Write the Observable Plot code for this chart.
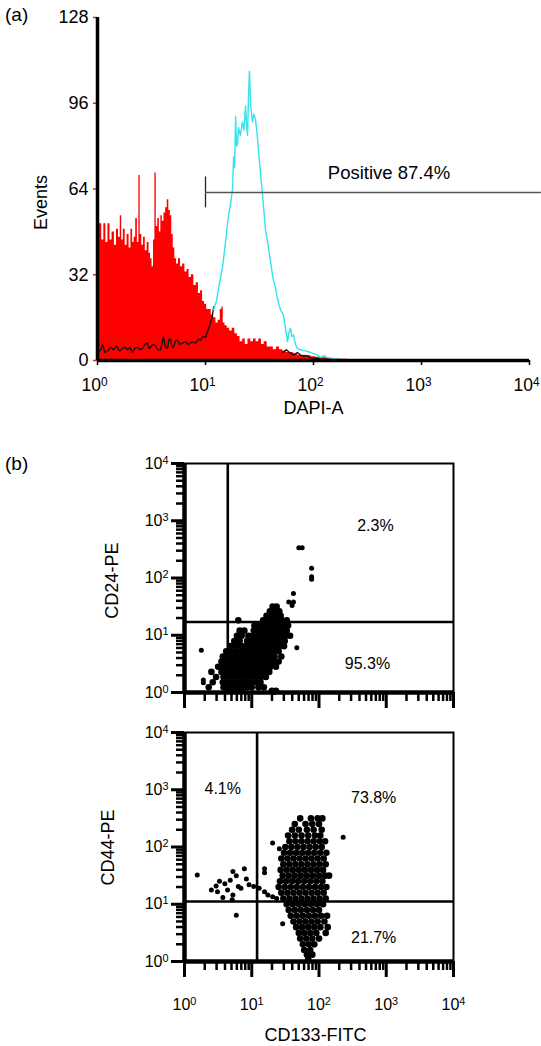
<!DOCTYPE html>
<html><head><meta charset="utf-8">
<script src="https://cdn.jsdelivr.net/npm/d3@7"></script>
<script src="https://cdn.jsdelivr.net/npm/@observablehq/plot@0.6"></script>
<style>
body{margin:0;background:#fff;}
#wrap{position:relative;width:541px;height:1046px;font-family:Arial,"Liberation Sans",sans-serif;color:#000;}
.panel{position:absolute;left:0;}
.tag{position:absolute;font-size:19px;line-height:1;}
</style></head><body>
<div id="wrap"><div class="tag" style="left:5px;top:5px">(a)</div><div class="tag" style="left:5px;top:454px">(b)</div></div>
<script>
// ---------- Panel (a): DAPI-A histogram (intensity, events) ----------
const redHist = [[1.00,46],[1.07,51],[1.12,45],[1.17,51],[1.22,44],[1.28,51],[1.33,45],[1.40,48],[1.47,43],[1.53,49],[1.60,46],[1.65,54],[1.70,45],[1.77,49],[1.84,43],[1.92,47],[2.00,42],[2.08,49],[2.15,44],[2.22,46],[2.30,53],[2.38,44],[2.45,69],[2.52,47],[2.62,43],[2.72,46],[2.82,41],[2.95,44],[3.05,40],[3.15,38],[3.25,35],[3.35,45],[3.45,70],[3.55,50],[3.68,53],[3.80,48],[3.92,54],[4.05,52],[4.20,55],[4.35,57],[4.50,60],[4.65,56],[4.80,54],[4.95,47],[5.10,42],[5.30,38],[5.50,36],[5.75,38],[6.00,35],[6.30,36],[6.60,33],[6.90,34],[7.20,31],[7.60,32],[8.00,28],[8.40,29],[8.80,25],[9.20,26],[9.60,22],[10.0,21],[10.5,19],[11.0,19],[11.6,17],[12.2,16],[12.8,14],[13.4,15],[14.0,19],[14.4,20],[14.8,14],[15.5,13],[16.3,12],[17.2,11],[18.2,12],[19.2,10],[20.3,9],[21.5,7],[22.7,8],[24.0,6],[25.5,8],[27.0,7],[28.6,8],[30.3,7],[32.0,8],[34.0,6],[36.0,7],[38.5,5],[41.0,5],[44.0,4],[47.0,5],[50.0,4],[54.0,3.5],[58.0,3],[63.0,3],[68.0,2.5],[75.0,2],[82.0,2],[90.0,1.8],[100,1.4],[110,1.2],[125,1],[140,0.8],[160,0.6],[190,0.5],[230,0.4],[300,0.3],[400,0.3],[600,0.2],[1000,0.2],[10000,0.1]];
const cyanHist = [[11.9,19],[12.6,22],[13.2,27],[13.8,31],[14.4,35],[15.3,44],[16.3,54],[17.0,58],[17.8,64],[18.2,76],[18.6,72],[19.0,91],[19.4,80],[19.8,81],[20.2,87],[21.0,84],[22.0,89],[22.7,86],[23.5,95],[24.0,88],[24.5,84],[25.0,98],[25.5,108],[26.2,95],[27.2,89],[28.0,92],[29.0,90],[30.0,85],[31.0,78],[32.3,70],[33.7,62],[35.9,49],[38.0,43],[40.0,37],[42.0,31],[44.5,27],[47.0,22],[49.4,19],[52.7,17],[55.0,12],[57.4,7],[59.0,10],[61.2,12],[63.0,9],[65.3,9.5],[68.0,6],[71.1,4.5],[76.0,4],[80.8,3.7],[86.0,3.5],[93.8,3],[100,2.5],[108,2.2],[116,1.1],[125,1.8],[135,1.0],[153,0.7],[180,0.4],[220,0.2],[300,0.1]];
const blackHead = [[1.00,3],[1.07,4],[1.11,6],[1.17,3],[1.24,3.5],[1.32,5],[1.40,4],[1.50,5.5],[1.60,3.5],[1.70,4.5],[1.80,5],[1.90,4],[2.00,5],[2.11,3],[2.22,4.5],[2.35,5],[2.48,4],[2.61,4.5],[2.75,6],[2.90,6.5],[3.00,4.5],[3.10,5],[3.25,6],[3.44,5.5],[3.60,4],[3.83,4],[4.00,7],[4.08,9],[4.25,5],[4.45,4.5],[4.60,8],[4.74,8],[4.90,5],[5.06,5],[5.30,7.5],[5.50,7.5],[5.80,6],[6.12,6.5],[6.50,7],[6.96,6],[7.50,7],[8.08,6.5],[8.60,8],[8.98,7.5],[9.50,9],[10.0,8.6],[10.5,11],[11.1,14],[11.5,16],[11.9,20]];
const blackTail = [[52,3],[56,4],[60,3],[65,2],[71,3],[76,2],[81,1.5],[88,1.8],[94,1],[105,0.8],[120,0.5],[150,0.3]];
const histYTicks = [0, 32, 64, 96, 128];
const decades = [1, 10, 100, 1000, 10000];
const gateA = {x: 10, y: 62.7, xEnd: 12900, tickLo: 57, tickHi: 68.5};
const gateLabel = [{x: 500, y: 69.8, text: "Positive 87.4%"}];

// ---------- Panel (b): scatter rows, in decades: [log10 y, [log10 x ...]] ----------
const cd24Rows = [
 [1.50,[1.31,1.37]],
 [1.42,[1.27,1.34,1.41]],
 [1.34,[1.22,1.29,1.36,1.43]],
 [1.26,[0.80,1.17,1.24,1.31,1.38,1.45,1.52]],
 [1.17,[1.04,1.12,1.19,1.26,1.33,1.40,1.47,1.54]],
 [1.08,[0.82,0.89,1.03,1.10,1.17,1.24,1.31,1.38,1.45,1.52]],
 [0.99,[0.78,0.85,0.95,1.02,1.09,1.16,1.23,1.30,1.37,1.44,1.51,1.57]],
 [0.90,[0.74,0.82,0.93,1.00,1.07,1.14,1.21,1.28,1.35,1.42,1.49]],
 [0.81,[0.69,0.77,0.85,0.92,0.99,1.06,1.13,1.20,1.27,1.34,1.41,1.48]],
 [0.72,[0.62,0.69,0.76,0.83,0.90,0.97,1.04,1.11,1.18,1.25,1.32,1.40]],
 [0.63,[0.57,0.64,0.71,0.78,0.85,0.92,0.99,1.06,1.13,1.20,1.27,1.34,1.44]],
 [0.54,[0.55,0.62,0.69,0.76,0.83,0.90,0.97,1.04,1.11,1.18,1.25,1.32,1.40]],
 [0.45,[0.50,0.58,0.65,0.72,0.79,0.86,0.93,1.00,1.07,1.14,1.21,1.28,1.36]],
 [0.36,[0.40,0.55,0.62,0.69,0.76,0.83,0.90,0.97,1.04,1.11,1.18,1.26]],
 [0.27,[0.47,0.58,0.65,0.72,0.79,0.86,0.93,1.00,1.07,1.14,1.21]],
 [0.18,[0.42,0.57,0.64,0.71,0.78,0.85,0.92,0.99,1.06,1.13]],
 [0.09,[0.36,0.58,0.65,0.72,0.79,0.86,0.93,1.00,1.10,1.18]],
 [0.03,[0.64,0.71,0.78,0.86,1.30,1.36]]
];
const cd24Stray = [[1.70,2.53],[1.75,2.53],[1.89,2.17],[1.89,2.02],[1.89,1.98],[1.62,1.73],[1.55,1.58],[1.62,1.58],[1.60,1.52],[0.25,0.74],[0.28,0.22],[0.28,0.17],[1.67,0.78],[1.34,0.00]];
const cd44Rows = [
 [2.50,[1.72,1.88,1.98,2.05]],
 [2.40,[1.64,1.80,1.90,2.00]],
 [2.30,[1.60,1.70,1.82,1.92,2.04]],
 [2.20,[1.54,1.64,1.74,1.84,1.94,2.02]],
 [2.10,[1.56,1.65,1.74,1.83,1.92,2.01,2.09]],
 [2.00,[1.50,1.59,1.68,1.77,1.86,1.95,2.04]],
 [1.90,[1.48,1.57,1.66,1.75,1.84,1.93,2.02,2.11]],
 [1.80,[1.44,1.53,1.62,1.71,1.80,1.89,1.98,2.07]],
 [1.70,[1.47,1.56,1.65,1.74,1.83,1.92,2.01,2.10]],
 [1.60,[1.43,1.52,1.61,1.70,1.79,1.88,1.97,2.06]],
 [1.50,[1.46,1.55,1.64,1.73,1.82,1.91,2.00,2.09,2.15]],
 [1.40,[1.42,1.51,1.60,1.69,1.78,1.87,1.96,2.05]],
 [1.30,[1.40,1.49,1.58,1.67,1.76,1.85,1.94,2.03,2.11]],
 [1.20,[1.44,1.53,1.62,1.71,1.80,1.89,1.98,2.07]],
 [1.10,[1.47,1.56,1.65,1.74,1.83,1.92,2.01,2.10]],
 [1.00,[1.52,1.61,1.70,1.79,1.88,1.97,2.06]],
 [0.90,[1.55,1.64,1.73,1.82,1.91,2.00]],
 [0.80,[1.58,1.67,1.76,1.85,1.94,2.03,2.12]],
 [0.70,[1.62,1.71,1.80,1.89,1.98,2.08]],
 [0.60,[1.66,1.75,1.84,1.93,2.02,2.13]],
 [0.50,[1.70,1.78,1.87,1.96,2.10]],
 [0.40,[1.72,1.81,1.90,2.00]],
 [0.30,[1.76,1.85,1.93]],
 [0.20,[1.78,1.87]],
 [0.12,[1.82,1.90]],
 [0.04,[1.84]]
];
const cd44Stray = [[0.19,1.51],[0.47,1.32],[0.52,1.40],[0.60,1.36],[0.72,1.57],[0.77,1.50],[0.89,1.62],[0.92,1.44],[0.84,1.28],[0.49,1.22],[0.64,1.25],[0.72,1.16],[0.80,1.31],[0.96,1.34],[1.03,1.31],[1.11,1.28],[1.19,1.22],[1.24,1.16],[1.31,1.13],[1.37,1.10],[1.19,1.62],[1.19,1.55],[1.31,2.07],[1.41,1.97],[0.77,0.81],[0.57,1.12],[0.71,1.08],[2.36,2.17],[1.46,0.66],[0.40,1.25],[0.68,1.42]];
const cd24Gate = {x: 4.4, y: 17};
const cd44Gate = {x: 12, y: 11.2};
const cd24Pct = [{x: 690, y: 830, text: "2.3%"}, {x: 525, y: 3.1, text: "95.3%"}];
const cd44Pct = [{x: 3.7, y: 1050, text: "4.1%"}, {x: 650, y: 720, text: "73.8%"}, {x: 650, y: 2.6, text: "21.7%"}];

// ---------- helpers ----------
const FONT = 'Arial, "Liberation Sans", sans-serif';
const sup = d => "10^" + Math.round(Math.log10(d));
const blank = () => "";
const minor = [];
for (const d of [1, 10, 100, 1000]) for (let k = 2; k <= 9; k++) minor.push(d * k);
const fromRows = rows => rows.flatMap(([ly, xs]) => xs.map(lx => ({x: 10 ** lx, y: 10 ** ly})));
const fromPairs = arr => arr.map(([lx, ly]) => ({x: 10 ** lx, y: 10 ** ly}));
const pairs = arr => arr.map(([x, y]) => ({x, y}));

function supify(svg) {
  d3.select(svg).selectAll("text").each(function () {
    const m = /^10\^(\d)$/.exec(this.textContent);
    if (!m) return;
    const s = d3.select(this);
    s.text(null);
    s.append("tspan").text("10");
    s.append("tspan").attr("dy", "-0.45em").attr("font-size", "0.68em").text(m[1]);
  });
}
function place(svg, top) {
  svg.classList.add("panel");
  svg.style.top = top + "px";
  supify(svg);
  document.getElementById("wrap").appendChild(svg);
}

// ---------- Panel (a) ----------
const A = {w: 541, h: 420, ml: 97, mr: 12, mt: 17, mb: 60};
const aFrameW = A.w - A.ml - A.mr, aFrameH = A.h - A.mt - A.mb;
const a = Plot.plot({
  width: A.w, height: A.h,
  marginLeft: A.ml, marginRight: A.mr, marginTop: A.mt, marginBottom: A.mb,
  x: {type: "log", domain: [1, 1e4], label: null},
  y: {domain: [0, 128], label: null},
  style: {fontFamily: FONT, fontSize: "18px", background: "transparent", color: "#000"},
  marks: [
    Plot.areaY(pairs(redHist), {x: "x", y: "y", curve: "step", fill: "#ff0000"}),
    Plot.line(pairs(blackHead), {x: "x", y: "y", stroke: "#111", strokeWidth: 1.3}),
    Plot.line(pairs(cyanHist), {x: "x", y: "y", stroke: "#35e2ee", strokeWidth: 1.4}),
    Plot.line(pairs(blackTail), {x: "x", y: "y", stroke: "#111", strokeWidth: 1.3}),
    Plot.ruleX([gateA], {x: "x", y1: "tickLo", y2: "tickHi", stroke: "#222", strokeWidth: 1.3}),
    Plot.ruleY([gateA], {y: "y", x1: "x", x2: "xEnd", stroke: "#555", strokeWidth: 1.4}),
    Plot.text(gateLabel, {x: "x", y: "y", text: "text", fontSize: 18.5}),
    Plot.axisX(decades, {tickSize: 0, tickPadding: 18, tickFormat: sup, fontSize: 17.5, dx: -3, label: null}),
    Plot.axisY(histYTicks, {tickSize: 0, tickPadding: 9, fontSize: 18, label: null}),
    Plot.ruleX(decades, {insetTop: aFrameH, insetBottom: -5, strokeWidth: 1.5}),
    Plot.ruleY(histYTicks, {insetLeft: -4, insetRight: aFrameW, stroke: "#b33", strokeWidth: 1.5}),
    Plot.ruleY([0], {strokeWidth: 3.5}),
    Plot.ruleX([1], {strokeWidth: 3.5}),
    Plot.text([{x: 100, y: -17.9, t: "DAPI-A"}], {x: "x", y: "y", text: "t", fontSize: 18}),
    Plot.text([{x: 0.30, y: 59, t: "Events"}], {x: "x", y: "y", text: "t", rotate: -90, fontSize: 18})
  ]
});
place(a, 0);

// ---------- Panel (b) ----------
function scatter({rows, stray, gate, pct, ylab, xlab, height, mt, mb}) {
  const ml = 184, mr = 88, w = 541;
  const fw = w - ml - mr, fh = height - mt - mb;
  return Plot.plot({
    width: w, height,
    marginLeft: ml, marginRight: mr, marginTop: mt, marginBottom: mb,
    x: {type: "log", domain: [1, 1e4], label: null},
    y: {type: "log", domain: [1, 1e4], label: null},
    style: {fontFamily: FONT, fontSize: "16px", background: "transparent", color: "#000"},
    marks: [
      Plot.frame({stroke: "#000", strokeWidth: 2}),
      Plot.ruleX([gate], {x: "x", strokeWidth: 2.6}),
      Plot.ruleY([gate], {y: "y", strokeWidth: 2.6}),
      Plot.dot(fromRows(rows), {x: "x", y: "y", r: 3.3, fill: "#000"}),
      Plot.dot(fromPairs(stray), {x: "x", y: "y", r: 2.5, fill: "#000"}),
      Plot.text(pct, {x: "x", y: "y", text: "text", fontSize: 16}),
      Plot.axisY(decades, {tickSize: 0, tickPadding: 16, tickFormat: sup, fontSize: 16, label: null}),
      Plot.axisX(decades, {tickSize: 0, tickPadding: 37, tickFormat: xlab ? sup : blank, fontSize: 16, label: null}),
      // left comb
      Plot.ruleY(minor, {insetLeft: -8, insetRight: fw, strokeWidth: 2.5}),
      Plot.ruleY(decades, {insetLeft: -13, insetRight: fw, strokeWidth: 3}),
      // bottom comb
      Plot.ruleX(minor, {insetTop: fh, insetBottom: -9, strokeWidth: 2.5}),
      Plot.ruleX(decades, {insetTop: fh, insetBottom: -16, strokeWidth: 3}),
      Plot.ruleX([1], {strokeWidth: 4.5}),
      Plot.ruleY([1], {strokeWidth: 4.5}),
      Plot.text([ylab], {x: "x", y: "y", text: "t", rotate: -90, fontSize: 18}),
      xlab ? Plot.text([xlab], {x: "x", y: "y", text: "t", fontSize: 18}) : null
    ]
  });
}
place(scatter({rows: cd24Rows, stray: cd24Stray, gate: cd24Gate, pct: cd24Pct,
  ylab: {x: 0.085, y: 90, t: "CD24-PE"}, xlab: null, height: 280, mt: 23, mb: 28}), 440);
place(scatter({rows: cd44Rows, stray: cd44Stray, gate: cd44Gate, pct: cd44Pct,
  ylab: {x: 0.074, y: 98, t: "CD44-PE"}, xlab: {x: 89, y: 0.051, t: "CD133-FITC"}, height: 326, mt: 12, mb: 85}), 720);
</script>
</body></html>
